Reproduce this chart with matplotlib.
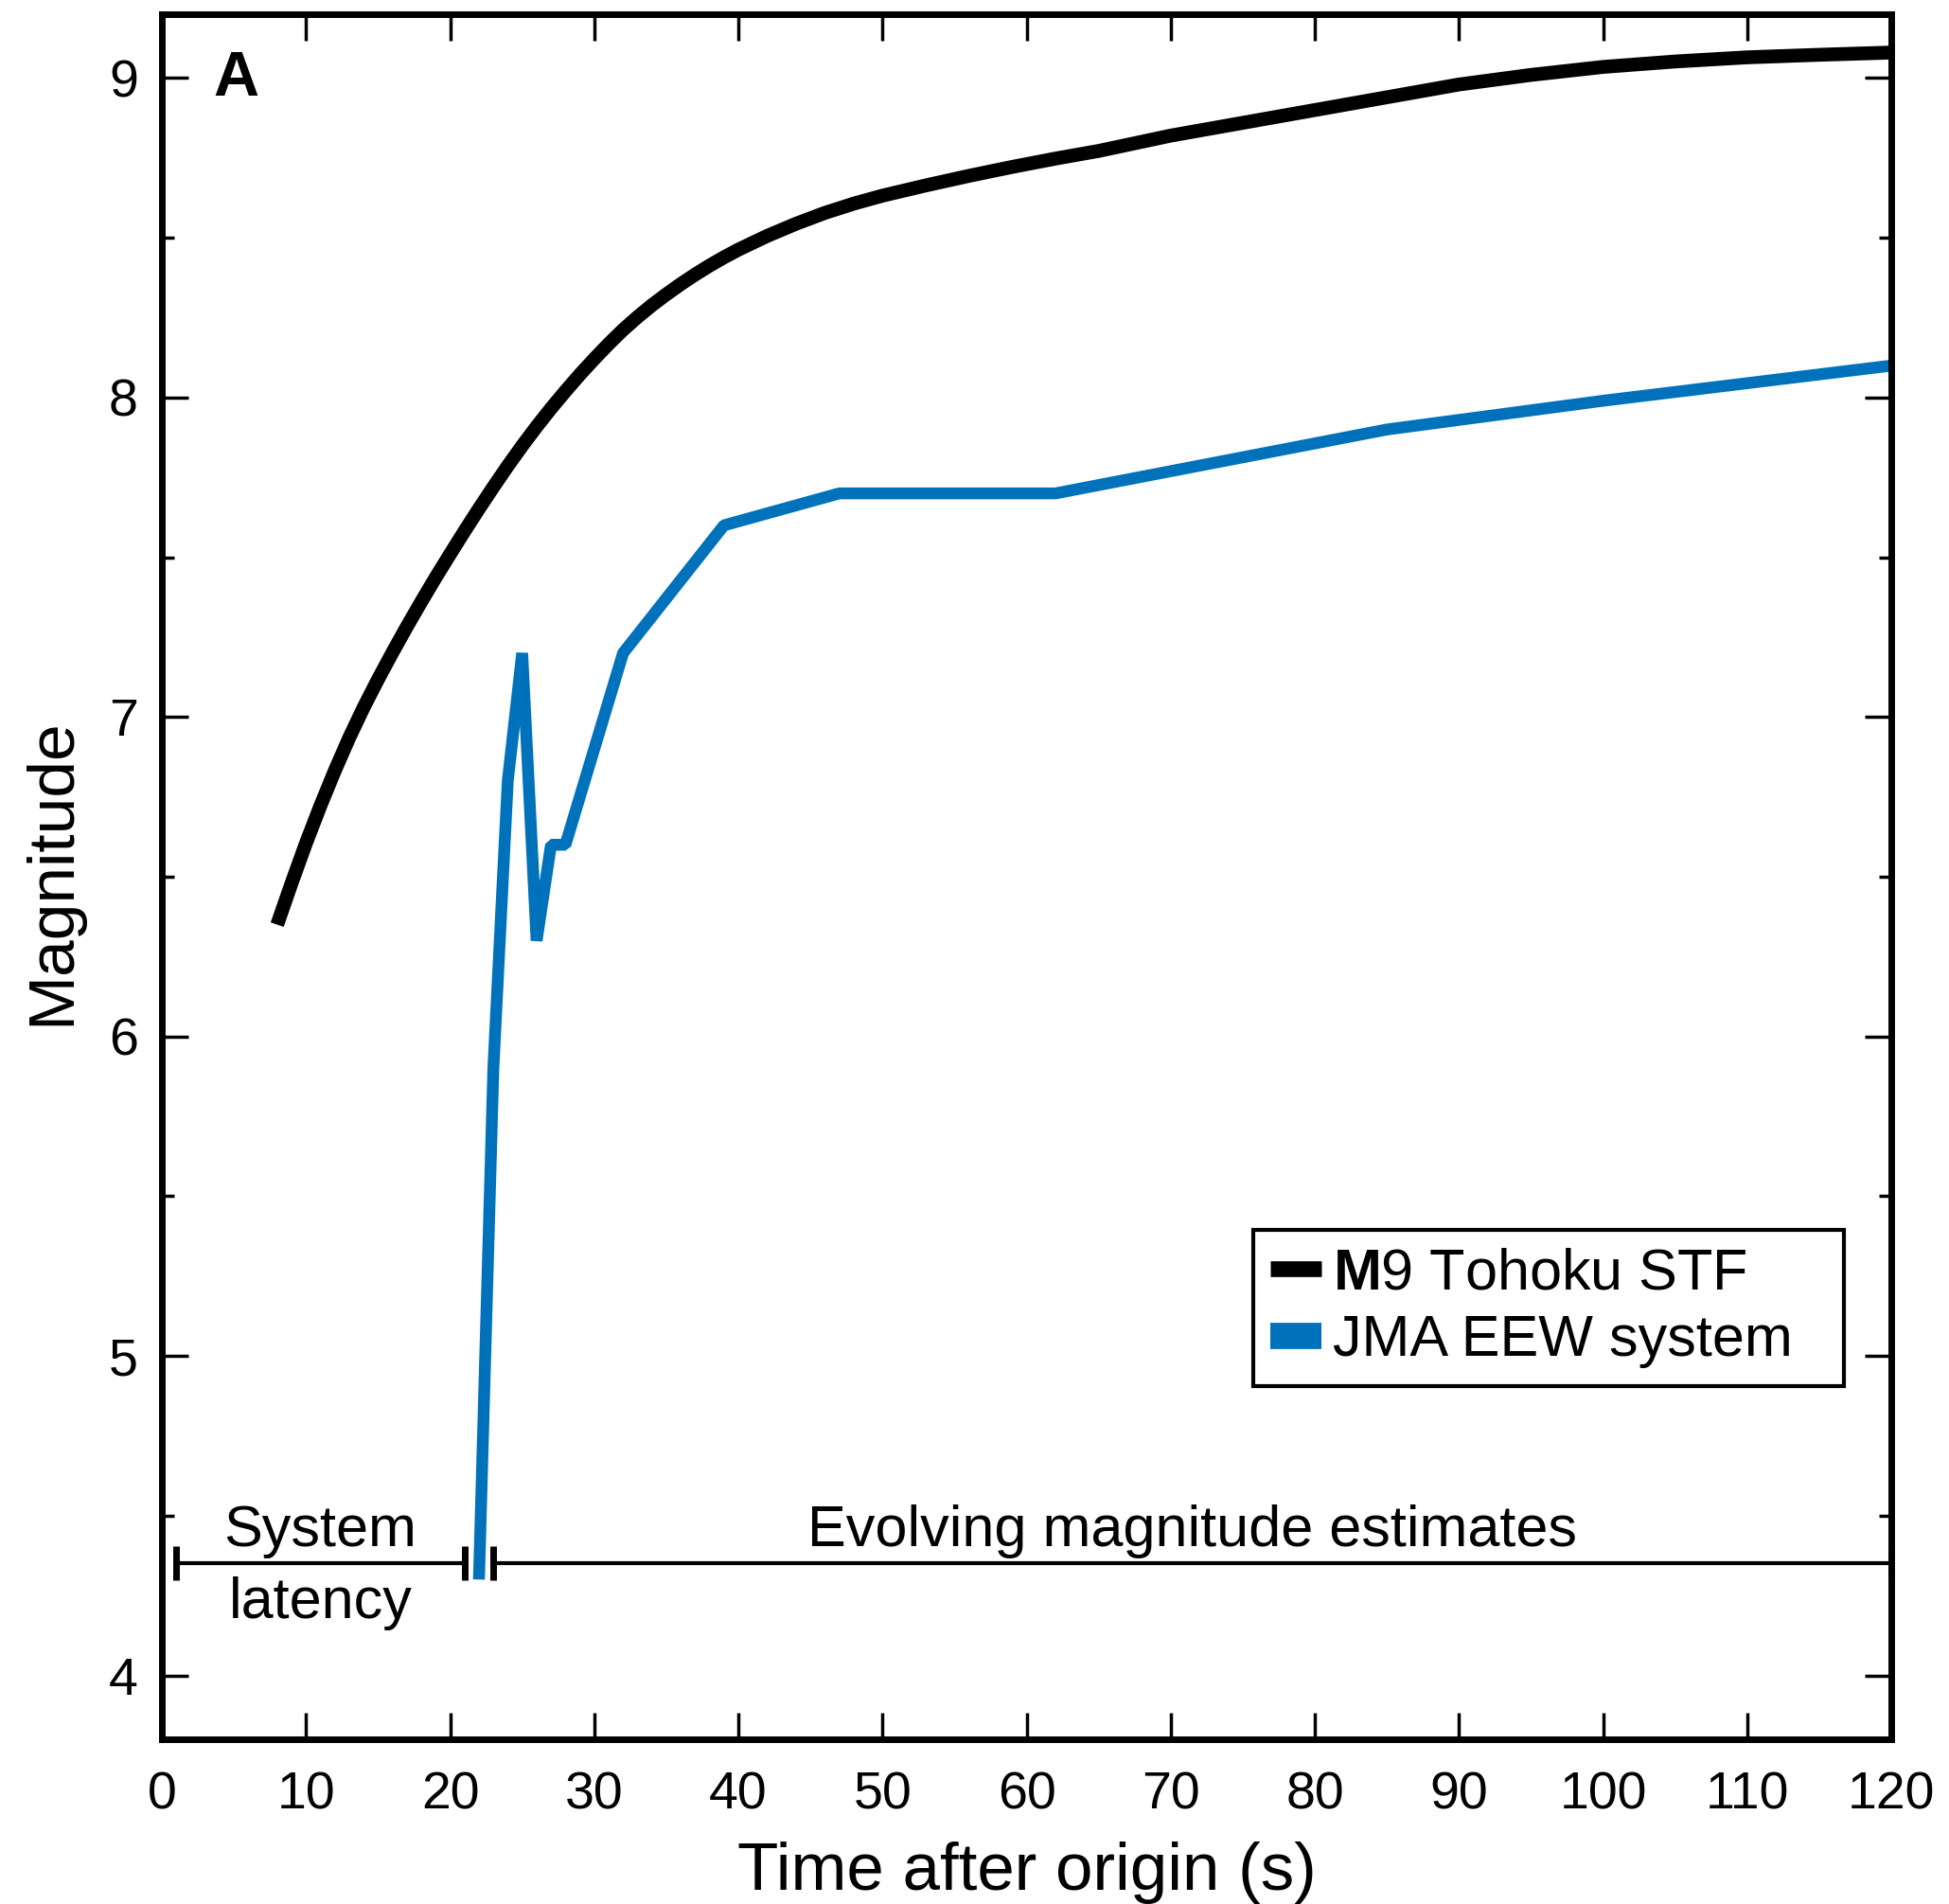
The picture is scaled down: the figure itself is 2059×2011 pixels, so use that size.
import matplotlib
matplotlib.use("Agg")
import matplotlib.pyplot as plt
from matplotlib.lines import Line2D
from matplotlib.ticker import MultipleLocator

plt.rcParams['font.family'] = ['Liberation Sans', 'DejaVu Sans']
plt.rcParams['mathtext.fontset'] = 'custom'
plt.rcParams['mathtext.rm'] = 'Liberation Sans'
plt.rcParams['mathtext.bf'] = 'Liberation Sans:bold'

# ---- data ----
stf_time = [8, 9, 10, 11, 12, 13, 14, 15, 16, 17, 18, 19, 20, 21, 22, 23, 24,
            25, 26, 27, 28, 29, 30, 31, 32, 33, 34, 35, 36, 37, 38, 39, 40,
            42, 44, 46, 48, 50, 53, 56, 59, 62, 65, 70, 75, 80, 85, 90, 95,
            100, 105, 110, 115, 120]
stf_mag = [6.35, 6.48, 6.605, 6.722, 6.832, 6.935, 7.030, 7.118, 7.202, 7.283,
           7.361, 7.437, 7.510, 7.582, 7.652, 7.720, 7.786, 7.849, 7.909,
           7.966, 8.020, 8.072, 8.121, 8.168, 8.212, 8.252, 8.289, 8.323,
           8.355, 8.385, 8.413, 8.439, 8.463, 8.506, 8.544, 8.578, 8.607,
           8.632, 8.664, 8.694, 8.722, 8.748, 8.772, 8.82, 8.86, 8.90, 8.94,
           8.98, 9.01, 9.035, 9.052, 9.065, 9.073, 9.08]

jma_time = [22, 23, 24, 25, 26, 27, 28, 32, 39, 47, 62, 85, 100, 120]
jma_mag = [4.3, 5.9, 6.8, 7.2, 6.3, 6.6, 6.6, 7.2, 7.6, 7.7, 7.7, 7.9, 7.99, 8.1]

latency_span = [1, 21]
evolving_span = [23, 120]
span_level = 4.35

x_ticks = list(range(0, 121, 10))
y_ticks = [4, 5, 6, 7, 8, 9]

blue = '#0072BC'

fig = plt.figure(figsize=(20.59, 20.11), dpi=100)
ax = fig.add_axes([0.08305, 0.08652, 0.8874, 0.90602])

ax.plot(stf_time, stf_mag, color='black', lw=10.5, solid_capstyle='butt',
        solid_joinstyle='round', zorder=3)
ax.plot(jma_time, jma_mag, color=blue, lw=9, solid_capstyle='butt',
        solid_joinstyle='bevel', zorder=3)

# spans
for span in (latency_span, evolving_span):
    ax.plot(span, [span_level, span_level], color='black', lw=3, zorder=2,
            solid_capstyle='butt')
    ax.plot(span, [span_level, span_level], linestyle='none', marker='|',
            markersize=26, markeredgewidth=5, color='black', zorder=2)

ax.text(sum(latency_span) / 2, 4.405, 'System', ha='center', va='baseline',
        fontsize=44)
ax.text(sum(latency_span) / 2, 4.18, 'latency', ha='center', va='baseline',
        fontsize=44)
ax.text(sum(evolving_span) / 2, 4.405, 'Evolving magnitude estimates',
        ha='center', va='baseline', fontsize=44)

ax.text(0.043, 0.979, 'A', transform=ax.transAxes, ha='center', va='top',
        fontsize=48, fontweight='bold')

ax.set_xlim(0, 120)
ax.set_ylim(3.8, 9.2)
ax.set_xticks(x_ticks)
ax.set_xticklabels([str(t) for t in x_ticks])
ax.set_yticks(y_ticks)
ax.set_yticklabels([str(t) for t in y_ticks])
ax.yaxis.set_minor_locator(MultipleLocator(0.5))

ax.tick_params(axis='both', which='major', direction='in', length=20, width=2.5,
               top=True, right=True, labelsize=40)
ax.tick_params(axis='x', which='major', pad=24)
ax.tick_params(axis='y', which='major', pad=18)
ax.tick_params(axis='y', which='minor', direction='in', length=9.5, width=2.5,
               left=True, right=True)
for s in ax.spines.values():
    s.set_linewidth(5)
    s.set_zorder(5)

ax.set_xlabel('Time after origin (s)', fontsize=51)
ax.set_ylabel('Magnitude', fontsize=50)
ax.xaxis.set_label_coords(0.5, -0.059)
ax.yaxis.set_label_coords(-0.046, 0.503)

handles = [Line2D([], [], color='black', lw=12, solid_capstyle='butt'),
           Line2D([], [], color=blue, lw=20, solid_capstyle='butt')]
labels = [r'$\mathbf{M}$9 Tohoku STF', 'JMA EEW system']
leg = ax.legend(handles, labels, loc='upper left',
                bbox_to_anchor=(0.631, 0.18, 0.3416, 0.1153), mode='expand',
                borderaxespad=0, fontsize=44, handlelength=0.88,
                handletextpad=0.2, borderpad=0.3, labelspacing=0.23,
                fancybox=False, framealpha=1, edgecolor='black')
leg.get_frame().set_linewidth(3)

fig.savefig('out.png', dpi=100)
